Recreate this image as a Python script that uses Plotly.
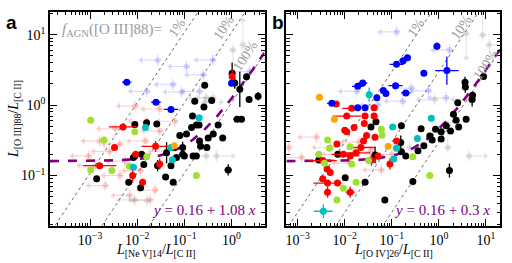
import numpy as np
import plotly.graph_objects as go

# ---------------- data ----------------
# Panel a : x = L[NeV]14/L[CII], y = L[OIII]88/L[CII]
a_black_x = [0.00138, 0.0066, 0.0089, 0.0089, 0.0118, 0.0124, 0.0138, 0.0158, 0.026, 0.027,
             0.040, 0.058, 0.052, 0.058, 0.080, 0.092, 0.092, 0.10, 0.142, 0.149,
             0.18, 0.205, 0.166, 0.154, 0.18, 0.21, 0.22, 0.26, 0.27, 0.30,
             0.38, 0.41, 0.52, 0.65, 0.85, 1.03, 1.17, 1.31, 1.63, 2.08,
             2.36, 3.66, 1.5, 0.0083, 0.068, 0.111, 0.32, 0.042]
a_black_y = [0.090, 0.080, 0.53, 0.19, 0.067, 0.20, 0.143, 0.56, 0.54, 0.138,
             0.095, 0.080, 0.138, 0.25, 0.37, 0.25, 0.20, 0.19, 0.48, 0.70,
             0.52, 0.52, 1.14, 0.19, 0.19, 0.31, 0.26, 0.94, 1.91, 0.25,
             1.16, 0.39, 0.52, 0.34, 0.12, 2.85, 2.06, 0.63, 0.63, 2.54,
             1.2, 1.34, 1.68, 0.18, 0.18, 0.39, 0.34, 0.21]
a_black_ex = [0.05, 0.05, 0.05, 0.05, 0.05, 0.05, 0.05, 0.05, 0.05, 0.05,
              0.05, 0.05, 0.05, 0.05, 0.05, 0.05, 0.05, 0.05, 0.05, 0.05,
              0.05, 0.05, 0.05, 0.05, 0.05, 0.05, 0.05, 0.05, 0.05, 0.05,
              0.05, 0.05, 0.05, 0.05, 0.08, 0.05, 0.05, 0.08, 0.05, 0.05,
              0.05, 0.05, 0.05, 0.05, 0.05, 0.05, 0.05, 0.05]
a_black_ey = [0.04, 0.04, 0.04, 0.04, 0.04, 0.04, 0.04, 0.04, 0.04, 0.08,
              0.04, 0.04, 0.04, 0.04, 0.04, 0.08, 0.04, 0.04, 0.04, 0.04,
              0.04, 0.04, 0.04, 0.04, 0.04, 0.04, 0.04, 0.04, 0.04, 0.04,
              0.04, 0.04, 0.04, 0.04, 0.08, 0.15, 0.08, 0.04, 0.04, 0.04,
              0.04, 0.06, 0.25, 0.04, 0.04, 0.04, 0.04, 0.15]

a_red_x = [0.005, 0.0033, 0.0016, 0.008, 0.013, 0.0093, 0.0245, 0.030, 1.03]
a_red_y = [0.49, 0.25, 0.138, 0.10, 0.080, 0.20, 0.26, 0.146, 2.56]
a_red_ex = [0.3, 0.05, 0.35, 0.05, 0.05, 0.05, 0.3, 0.05, 0.05]
a_red_ey = [0.04, 0.04, 0.04, 0.1, 0.04, 0.04, 0.08, 0.08, 0.1]

a_blue_x = [0.0060, 0.025, 0.052, 1.0]
a_blue_y = [2.12, 1.10, 0.87, 2.05]
a_blue_ex = [0.1, 0.1, 0.15, 0.05]
a_blue_ey = [0.03, 0.03, 0.03, 0.03]

a_lime_x = [0.00103, 0.00197, 0.00103, 0.0029, 0.0089, 0.0068, 0.0159, 0.18]
a_lime_y = [0.61, 0.32, 0.12, 0.118, 0.42, 0.135, 0.185, 0.10]

a_cyan_x = [0.015, 0.0083, 0.052, 0.056, 0.206]
a_cyan_y = [0.48, 0.131, 0.25, 0.168, 0.66]

a_orange_x = [0.061]
a_orange_y = [0.265]

# faint (limits) panel a
a_fred_x = [0.016, 0.0043, 0.0026, 0.0055, 0.0013, 0.0117, 0.030, 0.0021, 0.0069, 0.0187,
            0.0034, 0.0016, 0.041, 0.009, 0.030, 0.00093, 0.0043, 0.063, 0.024, 0.0148]
a_fred_y = [0.59, 0.28, 0.22, 0.16, 0.138, 0.117, 0.43, 0.072, 0.052, 0.045,
            0.46, 0.31, 0.22, 0.97, 0.88, 0.19, 0.10, 0.59, 0.062, 0.31]
a_fblue_x = [0.027, 0.111, 0.057, 0.087, 0.25, 0.40, 0.016, 0.21, 2.4]
a_fblue_y = [4.35, 3.54, 1.97, 1.54, 2.7, 4.4, 1.57, 1.57, 3.0]
a_fgray_x = [1.74, 1.07, 0.29, 0.27, 0.41, 0.48, 0.29, 0.016, 0.0089]
a_fgray_y = [7.2, 6.1, 1.27, 1.1, 1.27, 0.19, 0.19, 0.044, 0.045]
a_fgray_dir = ["U", "D", "L", "R", "L", "R", "L", "L", "L"]

# Panel b : x = L[OIV]26/L[CII]
b_black_x = [0.0028, 0.0071, 0.0102, 0.027, 0.036, 0.046, 0.044, 0.071, 0.16, 0.155,
             0.16, 0.198, 0.28, 0.42, 0.48, 0.64, 0.72, 0.85, 1.12, 1.12,
             1.43, 1.77, 1.68, 2.04, 2.33, 2.52, 2.64, 3.8, 3.6, 3.66,
             5.2, 5.1, 8.9, 0.36]
b_black_y = [0.166, 0.20, 0.093, 0.080, 0.49, 0.58, 0.196, 0.045, 0.51, 0.295,
             0.218, 0.19, 0.082, 0.46, 0.265, 0.365, 0.32, 0.455, 0.417, 0.33,
             0.51, 0.43, 0.118, 0.74, 0.61, 1.08, 0.49, 0.63, 2.11, 1.81,
             1.38, 1.2, 2.56, 0.225]
b_black_ey = [0.04, 0.04, 0.04, 0.04, 0.04, 0.04, 0.12, 0.04, 0.04, 0.1,
              0.04, 0.04, 0.04, 0.04, 0.04, 0.04, 0.04, 0.04, 0.04, 0.04,
              0.04, 0.04, 0.1, 0.04, 0.04, 0.04, 0.04, 0.04, 0.08, 0.08,
              0.04, 0.1, 0.04, 0.04]

b_blue_x = [0.91, 0.215, 0.174, 0.126, 0.48, 1.48, 0.024, 0.0188, 0.12, 0.066,
            0.198, 0.075, 0.048, 0.0053, 0.0188, 0.027]
b_blue_y = [6.9, 4.7, 4.26, 3.8, 2.85, 3.1, 2.06, 1.85, 1.89, 1.61,
            1.49, 1.46, 1.27, 1.06, 0.92, 0.92]
b_blue_ex = [0.05, 0.05, 0.05, 0.15, 0.05, 0.25, 0.1, 0.12, 0.15, 0.05,
             0.1, 0.05, 0.05, 0.1, 0.1, 0.05]
b_blue_ey = [0.05, 0.03, 0.03, 0.03, 0.03, 0.2, 0.03, 0.03, 0.03, 0.03,
             0.03, 0.03, 0.03, 0.03, 0.03, 0.03]

b_red_x = [0.0066, 0.014, 0.042, 0.011, 0.027, 0.026, 0.042, 0.010, 0.011, 0.0158,
           0.0068, 0.0093, 0.013, 0.0174, 0.025, 0.029, 0.044, 0.0042, 0.0049, 0.0034,
           0.0043, 0.0070, 0.0043, 0.013, 0.037, 0.051, 0.091, 0.0034, 0.126, 0.022]
b_red_y = [1.04, 0.90, 0.92, 0.70, 0.70, 0.55, 0.70, 0.44, 0.42, 0.48,
           0.28, 0.20, 0.19, 0.21, 0.31, 0.37, 0.35, 0.124, 0.11, 0.090,
           0.078, 0.078, 0.058, 0.058, 0.166, 0.19, 0.146, 0.163, 0.31, 0.25]
b_red_ex = [0.05, 0.2, 0.05, 0.3, 0.05, 0.05, 0.05, 0.05, 0.05, 0.05,
            0.05, 0.25, 0.2, 0.3, 0.05, 0.05, 0.05, 0.05, 0.05, 0.05,
            0.3, 0.05, 0.05, 0.1, 0.05, 0.05, 0.05, 0.3, 0.05, 0.3]
b_red_ey = [0.03, 0.03, 0.03, 0.03, 0.03, 0.03, 0.03, 0.03, 0.03, 0.03,
            0.03, 0.03, 0.03, 0.03, 0.03, 0.03, 0.03, 0.03, 0.03, 0.03,
            0.03, 0.03, 0.08, 0.08, 0.08, 0.03, 0.08, 0.03, 0.03, 0.03]

b_lime_x = [0.0043, 0.0028, 0.0047, 0.0037, 0.013, 0.0141, 0.0093, 0.0068, 0.0174, 0.032,
            0.060, 0.062, 0.28, 0.64]
b_lime_y = [0.32, 0.20, 0.243, 0.149, 0.256, 0.146, 0.066, 0.045, 0.080, 0.163,
            0.455, 0.374, 0.185, 0.10]

b_cyan_x = [0.033, 0.69, 0.104, 0.35, 0.126, 0.110, 0.0035]
b_cyan_y = [1.41, 0.65, 0.49, 0.335, 0.243, 0.172, 0.031]
b_cyan_ex = [0.03, 0.03, 0.03, 0.03, 0.03, 0.03, 0.2]
b_cyan_ey = [0.1, 0.03, 0.03, 0.03, 0.03, 0.03, 0.1]

b_orange_x = [0.0029, 0.006, 0.0835]
b_orange_y = [1.30, 0.63, 0.26]

b_fblue_x = [0.126, 0.018, 0.17, 0.26, 1.43, 1.68, 0.05, 0.6]
b_fblue_y = [11, 1.57, 1.14, 1.75, 1.27, 6.1, 1.0, 1.6]
b_fgray_x = [8.5, 11.8, 3.8, 4.4, 4.4, 0.81, 1.55, 0.24]
b_fgray_y = [9.9, 7.2, 10.4, 0.19, 1.2, 1.2, 0.25, 0.25]
b_fgray_dir = ["U", "R", "D", "R", "L", "L", "U", "L"]
b_fred_x = [0.00064, 0.0012, 0.005, 0.008, 0.013, 0.02, 0.035, 0.06, 0.0025, 0.1]
b_fred_y = [0.25, 0.18, 0.25, 0.2, 0.15, 0.3, 0.22, 0.12, 0.35, 0.2]

fit_a = (0.16, 1.08)
fit_b = (0.16, 0.3)
pct_frac = [0.01, 0.1, 1.0]
pct_text = ["1%", "10%", "100%"]

xr_a = [-3.85, 0.70]
xr_b = [-3.24, 1.30]
yr = [-1.718, 1.324]

x_tick_exp = [-3, -2, -1, 0, 1]
y_tick_exp = [-1, 0, 1]

# ---------------- styling ----------------
C_BLACK = "#000000"
C_RED = "#ff0000"
C_BLUE = "#0000ff"
C_LIME = "#9ee22e"
C_CYAN = "#00bfbf"
C_ORANGE = "#ffa500"
C_PURPLE = "#800080"
SERIF = "Liberation Serif, Times New Roman, serif"

fig = go.Figure()


def err(vals, dex):
    v = np.array(vals, float)
    d = np.array(dex, float) if np.ndim(dex) else np.full(len(v), dex)
    return v * 10 ** d - v, v - v / 10 ** d


def add_points(xs, ys, color, ax, ex=0.04, ey=0.04, size=7):
    hi_x, lo_x = err(xs, ex)
    hi_y, lo_y = err(ys, ey)
    fig.add_trace(go.Scatter(
        x=xs, y=ys, mode="markers", xaxis=ax[0], yaxis=ax[1],
        marker=dict(color=color, size=size, line=dict(width=0)),
        error_x=dict(type="data", array=hi_x, arrayminus=lo_x, color=color, thickness=1.3, width=0),
        error_y=dict(type="data", array=hi_y, arrayminus=lo_y, color=color, thickness=1.3, width=0),
        showlegend=False, hoverinfo="skip"))


def add_faint(xs, ys, rgb, ax, dirs=None, alpha=0.22):
    n = len(xs)
    dirs = dirs or ["L"] * n
    col = "rgba(%d,%d,%d,%.2f)" % (rgb[0], rgb[1], rgb[2], alpha)
    shaft = 0.35
    for d, sym in (("L", "triangle-left"), ("R", "triangle-right"), ("U", "triangle-up"), ("D", "triangle-down")):
        idx = [i for i in range(n) if dirs[i] == d]
        if not idx:
            continue
        px = np.array([xs[i] for i in idx], float)
        py = np.array([ys[i] for i in idx], float)
        ex_hi, ex_lo = err(px, 0.08)
        ey_hi, ey_lo = err(py, 0.08)
        if d == "L":
            ex_lo = px - px / 10 ** shaft
            tx, ty = px / 10 ** shaft, py
        elif d == "R":
            ex_hi = px * 10 ** shaft - px
            tx, ty = px * 10 ** shaft, py
        elif d == "U":
            ey_hi = py * 10 ** shaft - py
            tx, ty = px, py * 10 ** shaft
        else:
            ey_lo = py - py / 10 ** shaft
            tx, ty = px, py / 10 ** shaft
        fig.add_trace(go.Scatter(
            x=px, y=py, mode="markers", xaxis=ax[0], yaxis=ax[1],
            marker=dict(color=col, size=6),
            error_x=dict(type="data", array=ex_hi, arrayminus=ex_lo, color=col, thickness=1.2, width=0),
            error_y=dict(type="data", array=ey_hi, arrayminus=ey_lo, color=col, thickness=1.2, width=0),
            showlegend=False, hoverinfo="skip"))
        fig.add_trace(go.Scatter(
            x=tx, y=ty, mode="markers", xaxis=ax[0], yaxis=ax[1],
            marker=dict(color=col, size=6, symbol=sym),
            showlegend=False, hoverinfo="skip"))


def add_guides(ax, xr, fit):
    xs = np.logspace(xr[0] - 0.1, xr[1] + 0.1, 200)
    for f in pct_frac:
        fig.add_trace(go.Scatter(x=xs, y=fit[1] * xs / f, mode="lines", xaxis=ax[0], yaxis=ax[1],
                                 line=dict(color="#444444", width=0.8, dash="dot"),
                                 showlegend=False, hoverinfo="skip"))


def add_fit(ax, xr, fit):
    xs = np.logspace(xr[0], xr[1], 300)
    fig.add_trace(go.Scatter(x=xs, y=fit[0] + fit[1] * xs, mode="lines", xaxis=ax[0], yaxis=ax[1],
                             line=dict(color=C_PURPLE, width=2.6, dash="dash"),
                             showlegend=False, hoverinfo="skip"))


A = ("x", "y")
B = ("x2", "y2")

# panel a
add_guides(A, xr_a, fit_a)
add_faint(a_fred_x, a_fred_y, (255, 60, 60), A)
add_faint(a_fblue_x, a_fblue_y, (90, 90, 255), A)
add_faint(a_fgray_x, a_fgray_y, (140, 140, 140), A, a_fgray_dir)
add_fit(A, xr_a, fit_a)
add_points(a_black_x, a_black_y, C_BLACK, A, a_black_ex, a_black_ey)
add_points(a_red_x, a_red_y, C_RED, A, a_red_ex, a_red_ey)
add_points(a_blue_x, a_blue_y, C_BLUE, A, a_blue_ex, a_blue_ey)
add_points(a_lime_x, a_lime_y, C_LIME, A)
add_points(a_cyan_x, a_cyan_y, C_CYAN, A)
add_points(a_orange_x, a_orange_y, C_ORANGE, A)

# panel b
add_guides(B, xr_b, fit_b)
add_faint(b_fred_x, b_fred_y, (255, 60, 60), B)
add_faint(b_fblue_x, b_fblue_y, (90, 90, 255), B)
add_faint(b_fgray_x, b_fgray_y, (140, 140, 140), B, b_fgray_dir)
add_fit(B, xr_b, fit_b)
add_points(b_black_x, b_black_y, C_BLACK, B, 0.05, b_black_ey)
add_points(b_red_x, b_red_y, C_RED, B, b_red_ex, b_red_ey)
add_points(b_blue_x, b_blue_y, C_BLUE, B, b_blue_ex, b_blue_ey)
add_points(b_lime_x, b_lime_y, C_LIME, B)
add_points(b_cyan_x, b_cyan_y, C_CYAN, B, b_cyan_ex, b_cyan_ey)
add_points(b_orange_x, b_orange_y, C_ORANGE, B)


def pow_ticks(exps):
    vals = [10.0 ** e for e in exps]
    txt = ["10<sup>%s</sup>" % (str(e).replace("-", "\u2212")) for e in exps]
    return vals, txt


def minor_vals(exps):
    out = []
    for e in range(min(exps) - 1, max(exps) + 2):
        out += [k * 10.0 ** e for k in range(2, 10)]
    return out


xtv, xtt = pow_ticks(x_tick_exp)
ytv, ytt = pow_ticks(y_tick_exp)

axis_common = dict(
    type="log", showgrid=False, zeroline=False, showline=True, linecolor="black", linewidth=1.5,
    mirror="allticks", ticks="inside", ticklen=7, tickwidth=1.3, tickcolor="black",
    tickfont=dict(family=SERIF, size=14, color="black"),
)
minor_common = dict(ticks="inside", ticklen=3.5, tickwidth=1, tickcolor="black", showgrid=False)

fig.update_layout(
    width=512, height=263, margin=dict(l=50, r=11, t=10, b=37),
    paper_bgcolor="white", plot_bgcolor="white",
    xaxis=dict(axis_common, domain=[0, 0.4767], range=xr_a, anchor="y", tickvals=xtv, ticktext=xtt,
               minor=dict(minor_common, tickvals=minor_vals(x_tick_exp))),
    xaxis2=dict(axis_common, domain=[0.5255, 1], range=xr_b, anchor="y2", tickvals=xtv, ticktext=xtt,
                minor=dict(minor_common, tickvals=minor_vals(x_tick_exp))),
    yaxis=dict(axis_common, domain=[0, 1], range=yr, anchor="x", tickvals=ytv, ticktext=ytt,
               minor=dict(minor_common, tickvals=minor_vals(y_tick_exp))),
    yaxis2=dict(axis_common, domain=[0, 1], range=yr, anchor="x2", tickvals=ytv, ticktext=ytt,
                showticklabels=False, minor=dict(minor_common, tickvals=minor_vals(y_tick_exp))),
)

anns = []


def paper_pos(px, py):
    return (px - 50) / 451.0, (226 - py) / 216.0


for txt, px, py in (("<b>a</b>", 11, 21), ("<b>b</b>", 279, 21)):
    xp, yp = paper_pos(px, py)
    anns.append(dict(text=txt, x=xp, y=yp, xref="paper", yref="paper", showarrow=False,
                     font=dict(family="Liberation Sans, Arial, sans-serif", size=19, color="black"),
                     xanchor="center", yanchor="middle"))

# axis titles
xp, yp = paper_pos(156, 251)
anns.append(dict(text="<i>L</i><sub>[Ne V]14</sub>/<i>L</i><sub>[C II]</sub>", x=xp, y=yp, xref="paper", yref="paper",
                 showarrow=False, font=dict(family=SERIF, size=14, color="black"), xanchor="center", yanchor="middle"))
xp, yp = paper_pos(394, 251)
anns.append(dict(text="<i>L</i><sub>[O IV]26</sub>/<i>L</i><sub>[C II]</sub>", x=xp, y=yp, xref="paper", yref="paper",
                 showarrow=False, font=dict(family=SERIF, size=14, color="black"), xanchor="center", yanchor="middle"))
xp, yp = paper_pos(14, 118)
anns.append(dict(text="<i>L</i><sub>[O III]88</sub>/<i>L</i><sub>[C II]</sub>", x=xp, y=yp, xref="paper", yref="paper",
                 showarrow=False, textangle=-90, font=dict(family=SERIF, size=14, color="black"),
                 xanchor="center", yanchor="middle"))

# f_AGN label
xp, yp = paper_pos(112, 28)
anns.append(dict(text="<i>f</i><sub>AGN</sub>([O III]88)=", x=xp, y=yp, xref="paper", yref="paper",
                 showarrow=False, font=dict(family=SERIF, size=15, color="#9a9a9a"), xanchor="center", yanchor="middle"))

# percent labels (data coords in log)
pct_a = [(-1.16, 1.11), (-0.16, 1.10), (0.30, 0.70)]
pct_b = [(-0.49, 1.11), (0.47, 1.11), (1.0, 0.58)]
for (lx, ly), t in zip(pct_a, pct_text):
    anns.append(dict(text=t, x=lx, y=ly, xref="x", yref="y", showarrow=False, textangle=-56,
                     font=dict(family=SERIF, size=14, color="#9a9a9a")))
for (lx, ly), t in zip(pct_b, pct_text):
    anns.append(dict(text=t, x=lx, y=ly, xref="x2", yref="y2", showarrow=False, textangle=-56,
                     font=dict(family=SERIF, size=14, color="#9a9a9a")))

# fit labels
xp, yp = paper_pos(204, 210)
anns.append(dict(text="<i>y</i> = 0.16 + 1.08 <i>x</i>", x=xp, y=yp, xref="paper", yref="paper", showarrow=False,
                 font=dict(family=SERIF, size=15, color=C_PURPLE), xanchor="center", yanchor="middle"))
xp, yp = paper_pos(443, 210)
anns.append(dict(text="<i>y</i> = 0.16 + 0.3 <i>x</i>", x=xp, y=yp, xref="paper", yref="paper", showarrow=False,
                 font=dict(family=SERIF, size=15, color=C_PURPLE), xanchor="center", yanchor="middle"))

fig.update_layout(annotations=anns)
fig.write_html("out.html", config={"displayModeBar": False},
               post_script="document.body.style.margin='0';document.body.style.padding='0';")
